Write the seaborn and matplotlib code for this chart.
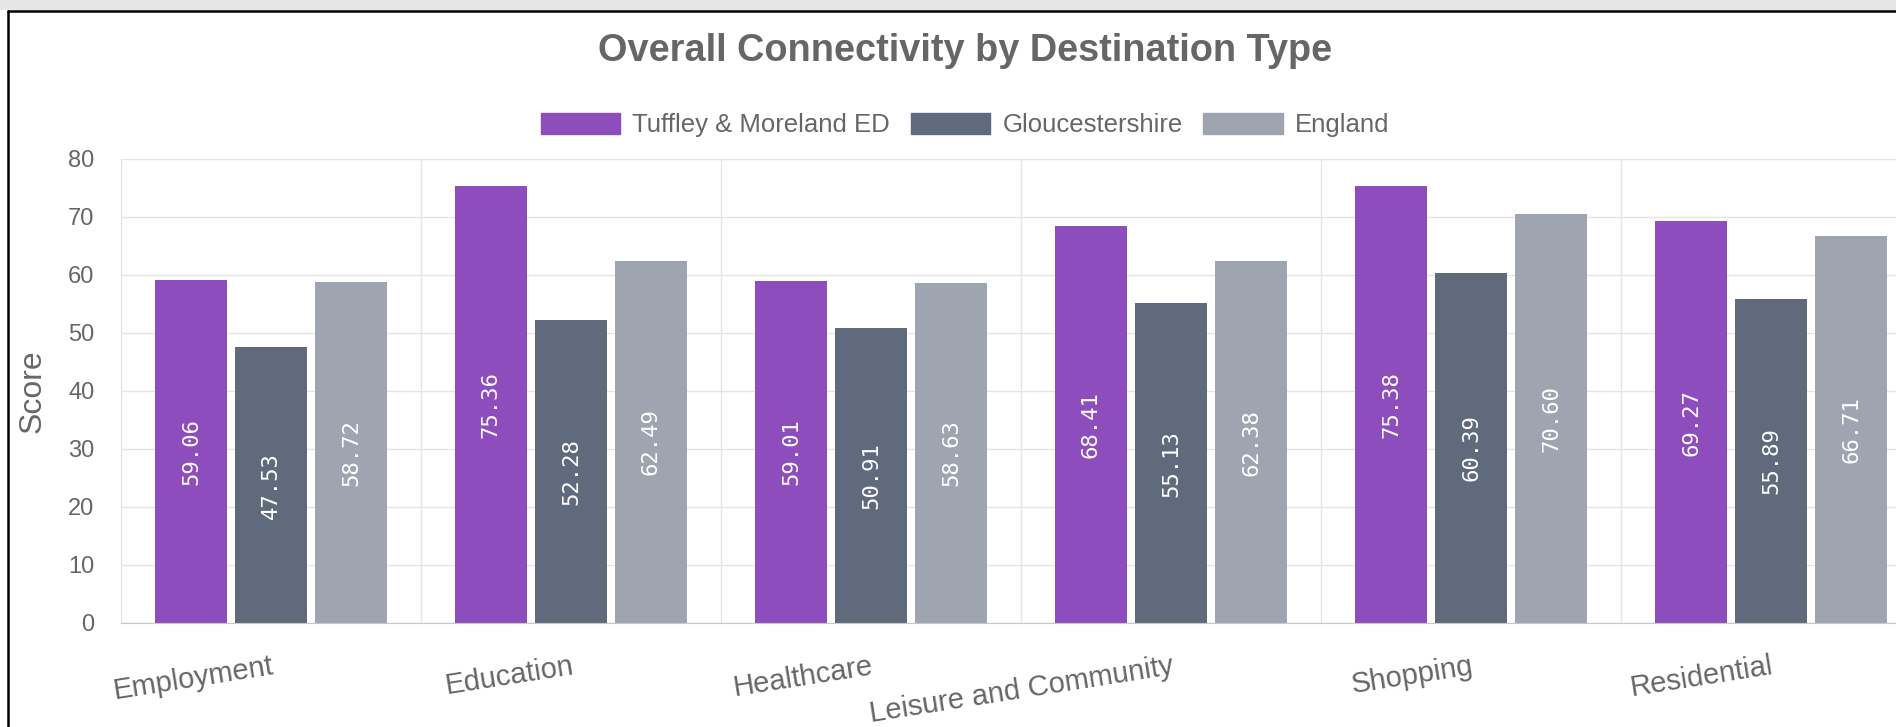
import numpy as np
import pandas as pd
import matplotlib
matplotlib.use('Agg')
import matplotlib.pyplot as plt
import seaborn as sns
from matplotlib.patches import Rectangle
from matplotlib.lines import Line2D


categories = ['Employment', 'Education', 'Healthcare', 'Leisure and Community', 'Shopping', 'Residential']
series = ['Tuffley & Moreland ED', 'Gloucestershire', 'England']
tuffley = [59.06, 75.36, 59.01, 68.41, 75.38, 69.27]
gloucestershire = [47.53, 52.28, 50.91, 55.13, 60.39, 55.89]
england = [58.72, 62.49, 58.63, 62.38, 70.60, 66.71]
yticks = [0, 10, 20, 30, 40, 50, 60, 70, 80]
colors = ['#8E4DBD', '#5F6B7D', '#9EA5B1']

df = pd.DataFrame({
    'Destination': categories * 3,
    'Area': np.repeat(series, len(categories)),
    'Score': tuffley + gloucestershire + england,
})

sns.set_style('white')
plt.rcParams['font.family'] = ['Liberation Sans', 'DejaVu Sans']
text_grey = '#666666'
grid_grey = '#e5e5e5'

fig = plt.figure(figsize=(18.96, 7.27), dpi=100)
ax = fig.add_axes([0.0638, 0.1431, 0.9494, 0.6382])

sns.barplot(data=df, x='Destination', y='Score', hue='Area', palette=colors,
            saturation=1, width=0.8, gap=0.11, linewidth=0, ax=ax)
ax.get_legend().remove()

# value labels inside the bars
for c in ax.containers:
    ax.bar_label(c, fmt='%.2f', label_type='center', rotation=90, color='white',
                 fontsize=16, family='DejaVu Sans Mono')

ax.set_xlim(-0.5, 5.5)
ax.set_ylim(0, 80)
ax.set_yticks(yticks)
ax.set_xticks(range(len(categories)))
ax.set_xticklabels(categories, rotation=9, ha='right', rotation_mode='anchor',
                   fontsize=21, color=text_grey)
ax.set_xticks(np.arange(-0.5, len(categories), 1), minor=True)
ax.tick_params(axis='x', which='major', length=0, pad=21)
ax.tick_params(axis='x', which='minor', length=12, width=1, color=grid_grey)
ax.tick_params(axis='y', length=12, width=1, color=grid_grey, pad=7,
               labelsize=17, labelcolor=text_grey)
ax.grid(axis='x', which='minor', color=grid_grey, lw=1)
ax.grid(axis='y', which='major', color=grid_grey, lw=1)
ax.set_axisbelow(True)

ax.set_xlabel('')
ax.set_ylabel('Score', fontsize=23, color=text_grey)
ax.yaxis.label.set_verticalalignment('center')
ax.yaxis.set_label_coords(-0.049, 0.5)

for s in ['top', 'right']:
    ax.spines[s].set_visible(False)
ax.spines['left'].set_color(grid_grey)
ax.spines['bottom'].set_color('#c8c8c8')

# legend
handles = [Rectangle((0, 0), 1, 1, facecolor=col, edgecolor=col) for col in colors]
fig.legend(handles, series, loc='center', bbox_to_anchor=(0.509, 0.828), ncol=3,
           frameon=False, fontsize=18.5, handlelength=3.1, handleheight=0.86,
           handletextpad=0.47, columnspacing=0.8, labelcolor=text_grey)

fig.text(0.509, 0.930, 'Overall Connectivity by Destination Type', ha='center', va='center',
         fontsize=27.3, fontweight='bold', color=text_grey)

# page strip and frame around the chart
fig.add_artist(Rectangle((0, 1 - 10 / 727), 1, 10 / 727, transform=fig.transFigure,
                         facecolor='#e6e6e6', edgecolor='none'))
fig.add_artist(Line2D([8 / 1896, 8 / 1896], [0, 1 - 11 / 727], transform=fig.transFigure,
                      color='black', lw=1.8))
fig.add_artist(Line2D([8 / 1896, 1], [1 - 11 / 727, 1 - 11 / 727], transform=fig.transFigure,
                      color='black', lw=1.8))

fig.savefig('out.png', dpi=100)
